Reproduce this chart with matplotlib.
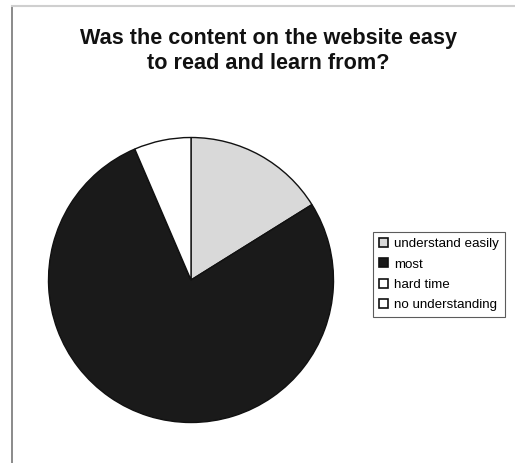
import matplotlib
matplotlib.use("Agg")
import matplotlib.pyplot as plt
from matplotlib.patches import Rectangle
from matplotlib.lines import Line2D

title = "Was the content on the website easy\nto read and learn from?"
categories = ["understand easily", "most", "hard time", "no understanding"]
counts = [5, 24, 0, 2]
colors = ["#d9d9d9", "#1a1a1a", "#ffffff", "#ffffff"]

W, H = 515, 463
fig = plt.figure(figsize=(W / 100, H / 100), dpi=100)
fig.patch.set_facecolor("white")

# frame lines of the chart area
fig.add_artist(Line2D([12 / W, 12 / W], [1 - 6 / H, 0], color="#777777", lw=1.2))
fig.add_artist(Line2D([12 / W, 1], [1 - 6 / H, 1 - 6 / H], color="#cfcfcf", lw=1.5))

fig.text(268 / W, 1 - 51 / H, title, ha="center", va="center",
         fontsize=15.6, fontweight="bold", family="Liberation Sans",
         linespacing=1.25, color="#111111")

# pie
cx, cy, r = 191, 280, 142.5
ax = fig.add_axes([(cx - r) / W, 1 - (cy + r) / H, 2 * r / W, 2 * r / H])
wedges, _ = ax.pie(counts, colors=colors, startangle=90, counterclock=False,
                   wedgeprops=dict(edgecolor="#111111", linewidth=1.0))
ax.set_aspect("equal")
ax.set_xlim(-1.0, 1.0)
ax.set_ylim(-1.0, 1.0)

# legend
handles = [Rectangle((0, 0), 1, 1, facecolor=c, edgecolor="#111111", lw=1.2) for c in colors]
leg = fig.legend(handles, categories, loc="upper left",
                 bbox_to_anchor=(373 / W, 1 - 232 / H),
                 prop=dict(family="Liberation Sans", size=9.6),
                 frameon=True, fancybox=False, edgecolor="#333333",
                 handlelength=0.65, handleheight=0.65, handletextpad=0.45,
                 labelspacing=0.62, borderpad=0.45, borderaxespad=0)
leg.get_frame().set_linewidth(0.8)

fig.savefig("out.png", dpi=100, facecolor="white")
